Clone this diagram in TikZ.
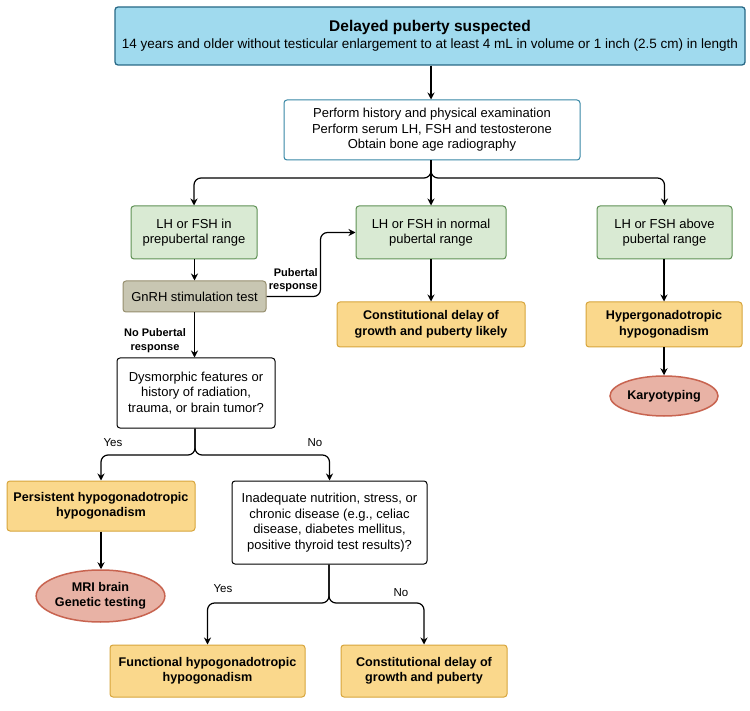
\documentclass[tikz,border=0pt]{standalone}
\usepackage{fontspec}
\setmainfont{Liberation Sans}
\usetikzlibrary{arrows.meta,shapes.geometric}
\definecolor{topfill}{RGB}{160,218,238}
\definecolor{topdraw}{RGB}{40,105,135}
\definecolor{wdraw}{RGB}{55,135,165}
\definecolor{gfill}{RGB}{217,234,211}
\definecolor{gdraw}{RGB}{95,145,85}
\definecolor{kfill}{RGB}{200,198,178}
\definecolor{kdraw}{RGB}{150,142,110}
\definecolor{ofill}{RGB}{250,216,140}
\definecolor{odraw}{RGB}{215,165,60}
\definecolor{efill}{RGB}{232,178,165}
\definecolor{edraw}{RGB}{200,100,80}
\tikzset{
  basebox/.style={rectangle, rounded corners=3pt, inner sep=0pt, align=center, line width=1pt, font=\fontsize{13}{15.5}\selectfont},
  topbox/.style={basebox, fill=topfill, draw=topdraw, line width=1.3pt},
  whitebox/.style={basebox, fill=white, draw=wdraw},
  qbox/.style={basebox, fill=white, draw=black},
  greenbox/.style={basebox, fill=gfill, draw=gdraw},
  khakibox/.style={basebox, fill=kfill, draw=kdraw},
  orangebox/.style={basebox, fill=ofill, draw=odraw, font=\bfseries\fontsize{12.6}{15.5}\selectfont},
  endnode/.style={ellipse, inner sep=0pt, align=center, fill=efill, draw=edraw, line width=1.5pt, font=\bfseries\fontsize{12.6}{15.5}\selectfont},
  arr/.style={-{Stealth[length=7pt,width=7pt]}, line width=1.2pt, black},
  rc/.style={rounded corners=7pt},
  blabel/.style={font=\bfseries\fontsize{11}{13.5}\selectfont, align=center, inner sep=0pt},
  ylabel/.style={font=\fontsize{11.5}{13}\selectfont, inner sep=0pt}
}
\begin{document}
\begin{tikzpicture}[x=1pt,y=-1pt]
\useasboundingbox (0,0) rectangle (750,711);
\fill[white] (0,0) rectangle (750,711);
\node[topbox, minimum width=630, minimum height=58] (top) at (430,36)
  {{\bfseries\fontsize{15.5}{18}\selectfont Delayed puberty suspected}\\[2pt]
   {\fontsize{13.5}{15}\selectfont 14 years and older without testicular enlargement to at least 4 mL in volume or 1 inch (2.5 cm) in length}};
\node[whitebox, minimum width=296, minimum height=60] (hist) at (432,130)
  {Perform history and physical examination\\Perform serum LH, FSH and testosterone\\Obtain bone age radiography};
\node[greenbox, minimum width=126, minimum height=53] (g1) at (194,232.5) {LH or FSH in\\prepubertal range};
\node[greenbox, minimum width=150, minimum height=53] (g2) at (431,232.5) {LH or FSH in normal\\pubertal range};
\node[greenbox, minimum width=135, minimum height=53] (g3) at (664.5,232.5) {LH or FSH above\\pubertal range};
\node[khakibox, minimum width=143, minimum height=31] (gn) at (194.5,296.5) {GnRH stimulation test};
\node[orangebox, minimum width=188, minimum height=45] (cdl) at (431,324.5) {Constitutional delay of\\growth and puberty likely};
\node[orangebox, minimum width=156, minimum height=45] (hyp) at (664,324.5) {Hypergonadotropic\\hypogonadism};
\node[endnode, minimum width=108, minimum height=40] (kar) at (664,396) {Karyotyping};
\node[qbox, minimum width=158, minimum height=70] (dys) at (196,393) {Dysmorphic features or\\history of radiation,\\trauma, or brain tumor?};
\node[orangebox, minimum width=188, minimum height=50] (per) at (101,506) {Persistent hypogonadotropic\\hypogonadism};
\node[endnode, minimum width=123, minimum height=52] (mri) at (100.5,596) {MRI brain\\Genetic testing};
\node[qbox, minimum width=195, minimum height=83] (ina) at (329.5,522.5) {Inadequate nutrition, stress, or\\chronic disease (e.g., celiac\\disease, diabetes mellitus,\\positive thyroid test results)?};
\node[orangebox, minimum width=195, minimum height=52] (fun) at (207.5,671) {Functional hypogonadotropic\\hypogonadism};
\node[orangebox, minimum width=166, minimum height=52] (con) at (424,671) {Constitutional delay of\\growth and puberty};

\coordinate (s1) at (431,178);
\coordinate (s2) at (195,455);
\coordinate (s3) at (329,603);

\draw[arr] (top.south -| hist.north) ++(-1,0) coordinate (t0) -- (t0 |- hist.north);
\draw[arr] (hist.south -| g2.north) -- (g2.north);
\draw[arr,rc] (hist.south -| s1) -- (s1) -| (g1.north);
\draw[arr,rc] (hist.south -| s1) -- (s1) -| (g3.north);
\draw[arr] (g1.south -| gn.north) ++(0,0) coordinate (a1) -- (a1 |- gn.north);
\draw[arr,rc] (gn.east) -- ++(54,0) |- (g2.west);
\draw[arr] (gn.south) -- (gn.south |- dys.north);
\draw[arr] (g2.south) -- (g2.south |- cdl.north);
\draw[arr] (g3.south -| hyp.north) -- (hyp.north);
\draw[arr] (hyp.south) -- (kar.north);
\draw[arr,rc] (dys.south -| s2) -- (s2) -| (per.north);
\draw[arr,rc] (dys.south -| s2) -- (s2) -| (ina.north);
\draw[arr] (per.south) -- (per.south |- mri.north);
\draw[arr,rc] (ina.south -| s3) -- (s3) -| (fun.north);
\draw[arr,rc] (ina.south -| s3) -- (s3) -| (con.north);

\node[blabel, align=right, anchor=east] (lpr) at (318,280) {Pubertal\\response};
\node[blabel] (lnp) at (155,340.5) {No Pubertal\\response};
\node[ylabel] (ly1) at (113,443) {Yes};
\node[ylabel] (ln1) at (315,443) {No};
\node[ylabel] (ly2) at (223,589) {Yes};
\node[ylabel] (ln2) at (401,593) {No};
\end{tikzpicture}
\end{document}
